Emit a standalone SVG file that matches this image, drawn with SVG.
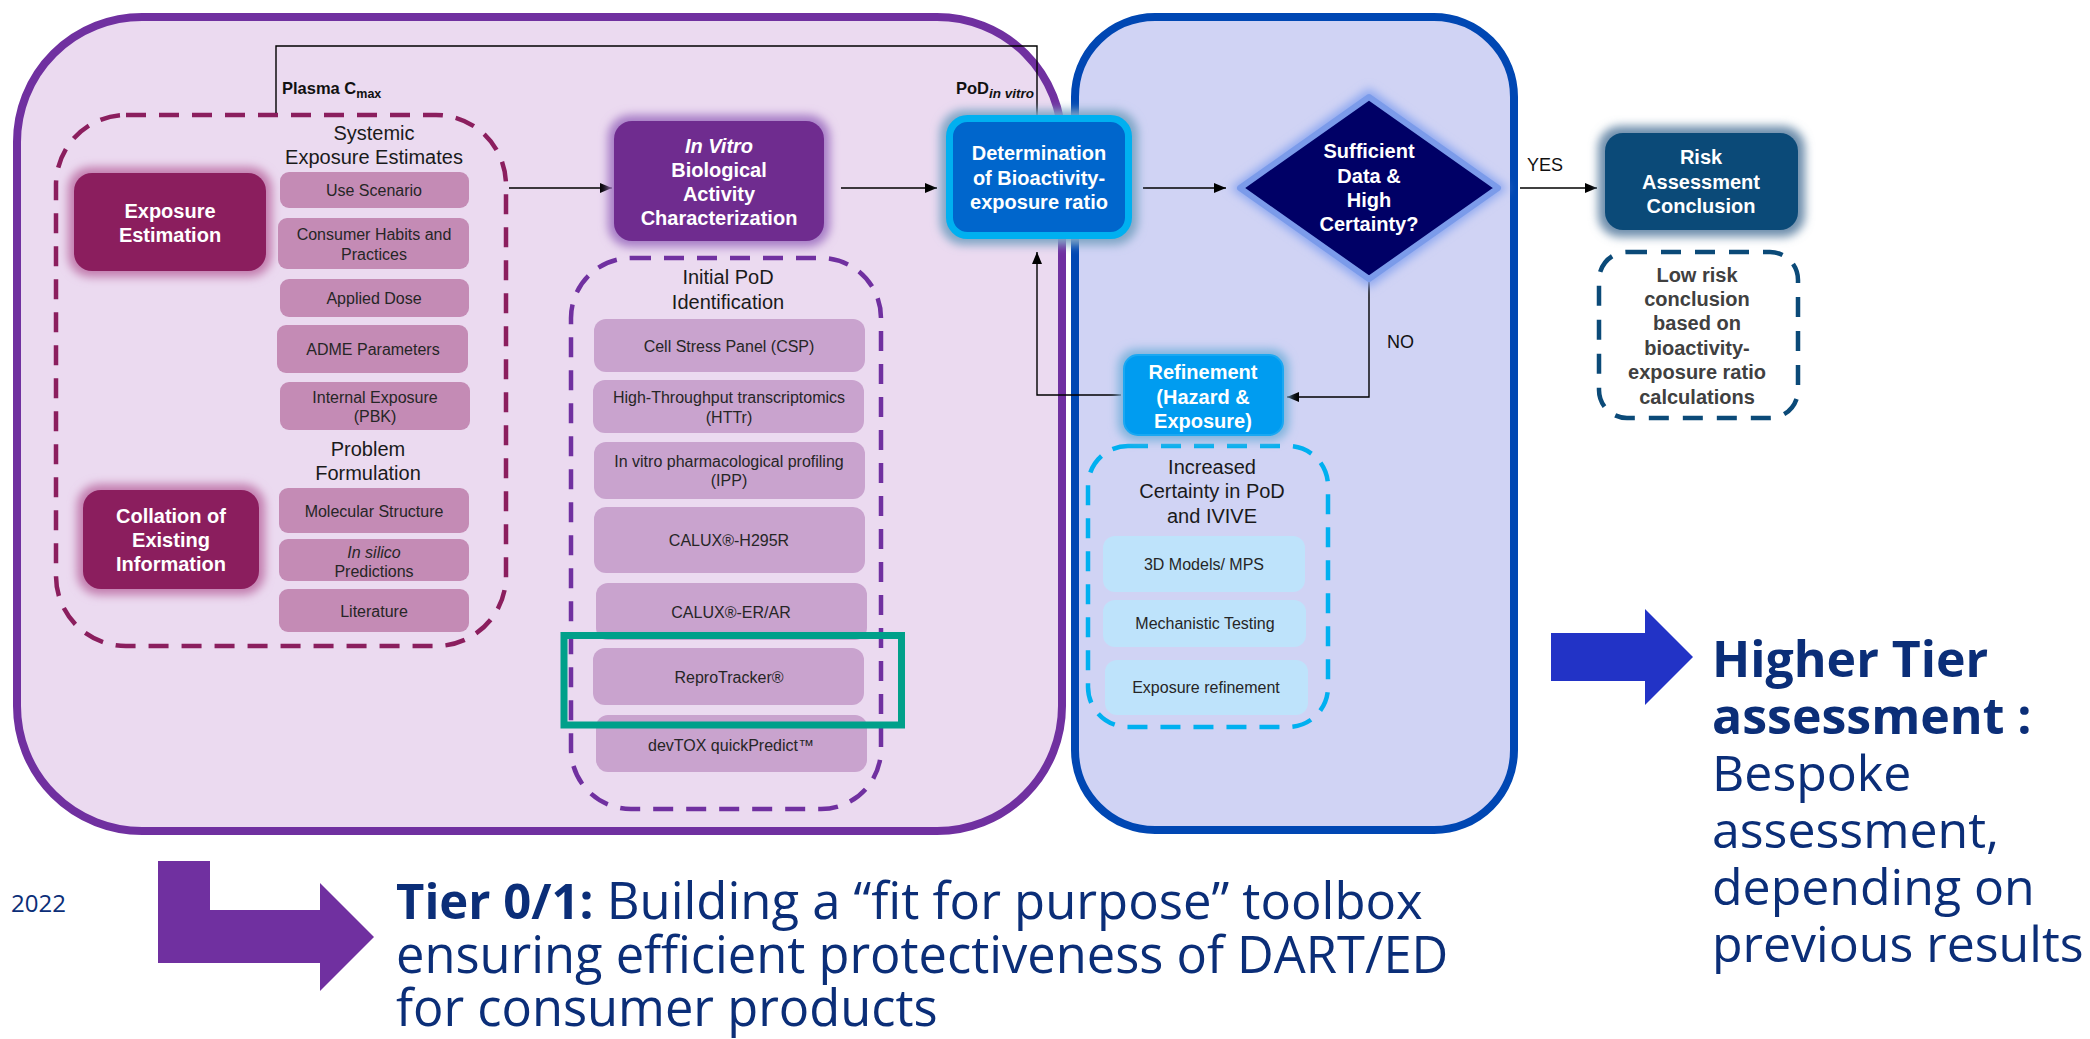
<svg xmlns="http://www.w3.org/2000/svg" width="2090" height="1039" viewBox="0 0 2090 1039">
<defs>
<style>
.t{font-family:"Liberation Sans",Arial,sans-serif;}
.hd{font-family:"Liberation Sans",Arial,sans-serif;font-size:20px;fill:#1a1a1a;text-anchor:middle;}
.it{font-family:"Liberation Sans",Arial,sans-serif;font-size:16px;fill:#262626;text-anchor:middle;}
.wb{font-family:"Liberation Sans",Arial,sans-serif;font-size:20px;font-weight:bold;fill:#ffffff;text-anchor:middle;}
.lab{font-family:"Liberation Sans",Arial,sans-serif;font-size:18px;fill:#111;}
.big{font-family:"Open Sans","Noto Sans",sans-serif;fill:#0B2E78;}
.conn{stroke:#000;stroke-width:1.4;fill:none;}
.pink{fill:#C48BB5;}
.lil{fill:#C9A3CE;}
.sky{fill:#BEE3FB;}
.halo{filter:url(#blur);}
</style>
<filter id="blur" x="-30%" y="-30%" width="160%" height="160%"><feGaussianBlur stdDeviation="5"/></filter>
<marker id="ah" viewBox="0 0 12 10" refX="12" refY="5" markerWidth="12" markerHeight="10" markerUnits="userSpaceOnUse" orient="auto"><path d="M0,0 L12,5 L0,10 Z" fill="#000"/></marker>
</defs>

<!-- background panels -->
<rect id="tier01-panel" x="17" y="17" width="1045" height="814" rx="125" fill="#EBDAF0" stroke="#7030A0" stroke-width="8"/>
<rect id="higher-panel" x="1075" y="17" width="439" height="813" rx="80" fill="#D0D3F4" stroke="#0047B3" stroke-width="8"/>

<!-- dashed groups -->
<g id="exposure-group">
<rect x="56" y="115" width="450" height="531" rx="70" fill="none" stroke="#8B1E5E" stroke-width="4.5" stroke-dasharray="20 13"/>
<text class="hd" x="374" y="140">Systemic</text>
<text class="hd" x="374" y="164">Exposure Estimates</text>
<text class="hd" x="368" y="456">Problem</text>
<text class="hd" x="368" y="480">Formulation</text>
</g>
<g id="pod-group">
<rect x="571" y="258" width="310" height="551" rx="60" fill="none" stroke="#7030A0" stroke-width="4.5" stroke-dasharray="20 13"/>
<text class="hd" x="728" y="284">Initial PoD</text>
<text class="hd" x="728" y="309">Identification</text>
</g>
<g id="certainty-group">
<rect x="1088" y="446" width="240" height="281" rx="40" fill="none" stroke="#00B0F0" stroke-width="4.5" stroke-dasharray="20 13"/>
<text class="hd" x="1212" y="474">Increased</text>
<text class="hd" x="1212" y="498">Certainty in PoD</text>
<text class="hd" x="1212" y="523">and IVIVE</text>
</g>

<!-- connectors -->
<g id="connectors">
<polyline class="conn" points="276,113 276,46 1037,46 1037,115"/>
<line class="conn" x1="509" y1="188" x2="612" y2="188" marker-end="url(#ah)"/>
<line class="conn" x1="841" y1="188" x2="937" y2="188" marker-end="url(#ah)"/>
<line class="conn" x1="1143" y1="188" x2="1226" y2="188" marker-end="url(#ah)"/>
<line class="conn" x1="1520" y1="188" x2="1597" y2="188" marker-end="url(#ah)"/>
<polyline class="conn" points="1369,281 1369,397 1287,397" marker-end="url(#ah)"/>
<polyline class="conn" points="1121,395 1037,395 1037,252" marker-end="url(#ah)"/>
<text class="t" x="282" y="94" font-size="16.5" font-weight="bold" fill="#111">Plasma C<tspan font-size="12.5" dy="4">max</tspan></text>
<text class="t" x="1034" y="94" font-size="16.5" font-weight="bold" fill="#111" text-anchor="end">PoD<tspan font-size="13.5" font-style="italic" dy="4">in vitro</tspan></text>
<text class="lab" x="1527" y="171">YES</text>
<text class="lab" x="1387" y="348">NO</text>
</g>

<!-- left column nodes -->
<g id="exposure-estimation">
<rect class="halo" x="68" y="167" width="204" height="110" rx="22" fill="#C27DAE"/>
<rect x="74" y="173" width="192" height="98" rx="18" fill="#8B1E5E"/>
<text class="wb" x="170" y="218">Exposure</text>
<text class="wb" x="170" y="242">Estimation</text>
</g>
<g id="collation">
<rect class="halo" x="77" y="484" width="188" height="111" rx="22" fill="#C27DAE"/>
<rect x="83" y="490" width="176" height="99" rx="18" fill="#8B1E5E"/>
<text class="wb" x="171" y="523">Collation of</text>
<text class="wb" x="171" y="547">Existing</text>
<text class="wb" x="171" y="571">Information</text>
</g>
<g id="use-scenario"><rect class="pink" x="280" y="172" width="189" height="36" rx="9"/><text class="it" x="374" y="196">Use Scenario</text></g>
<g id="consumer-habits"><rect class="pink" x="278" y="218" width="191" height="51" rx="9"/><text class="it" x="374" y="240">Consumer Habits and</text><text class="it" x="374" y="260">Practices</text></g>
<g id="applied-dose"><rect class="pink" x="280" y="279" width="189" height="38" rx="9"/><text class="it" x="374" y="304">Applied Dose</text></g>
<g id="adme"><rect class="pink" x="277" y="325" width="191" height="48" rx="9"/><text class="it" x="373" y="355">ADME Parameters</text></g>
<g id="internal-exposure"><rect class="pink" x="280" y="382" width="190" height="48" rx="9"/><text class="it" x="375" y="403">Internal Exposure</text><text class="it" x="375" y="422">(PBK)</text></g>
<g id="molecular-structure"><rect class="pink" x="279" y="488" width="190" height="45" rx="9"/><text class="it" x="374" y="517">Molecular Structure</text></g>
<g id="in-silico"><rect class="pink" x="279" y="539" width="190" height="42" rx="9"/><text class="it" x="374" y="558" font-style="italic">In silico</text><text class="it" x="374" y="577">Predictions</text></g>
<g id="literature"><rect class="pink" x="279" y="589" width="190" height="43" rx="9"/><text class="it" x="374" y="617">Literature</text></g>

<!-- middle column -->
<g id="in-vitro">
<rect class="halo" x="608" y="115" width="222" height="132" rx="22" fill="#A67CC6"/>
<rect x="614" y="121" width="210" height="120" rx="18" fill="#6F2C8F"/>
<text class="wb" x="719" y="153" font-style="italic">In Vitro</text>
<text class="wb" x="719" y="177">Biological</text>
<text class="wb" x="719" y="201">Activity</text>
<text class="wb" x="719" y="225">Characterization</text>
</g>
<g id="csp"><rect class="lil" x="594" y="319" width="271" height="53" rx="12"/><text class="it" x="729" y="352">Cell Stress Panel (CSP)</text></g>
<g id="httr"><rect class="lil" x="593" y="380" width="271" height="53" rx="12"/><text class="it" x="729" y="403">High-Throughput transcriptomics</text><text class="it" x="729" y="423">(HTTr)</text></g>
<g id="ipp"><rect class="lil" x="594" y="442" width="271" height="57" rx="12"/><text class="it" x="729" y="467">In vitro pharmacological profiling</text><text class="it" x="729" y="486">(IPP)</text></g>
<g id="calux-h295r"><rect class="lil" x="594" y="507" width="271" height="66" rx="12"/><text class="it" x="729" y="546">CALUX®-H295R</text></g>
<g id="calux-erar"><rect class="lil" x="596" y="583" width="271" height="57" rx="12"/><text class="it" x="731" y="618">CALUX®-ER/AR</text></g>
<g id="reprotracker"><rect class="lil" x="593" y="648" width="271" height="57" rx="12"/><text class="it" x="729" y="683">ReproTracker®</text></g>
<g id="devtox"><rect class="lil" x="596" y="715" width="271" height="57" rx="12"/><text class="it" x="731" y="751">devTOX quickPredict™</text></g>
<g id="highlight"><rect x="564" y="635.5" width="337.5" height="89.5" fill="none" stroke="#00A08A" stroke-width="7"/></g>

<!-- right part -->
<g id="determination">
<rect class="halo" x="940" y="110" width="198" height="135" rx="24" fill="#7FA6C6"/>
<rect x="949.5" y="118.5" width="179" height="117" rx="18" fill="#0066CC" stroke="#00B0F0" stroke-width="7"/>
<text class="wb" x="1039" y="160">Determination</text>
<text class="wb" x="1039" y="185">of Bioactivity-</text>
<text class="wb" x="1039" y="209">exposure ratio</text>
</g>
<g id="decision">
<polygon class="halo" points="1369,88 1508,188 1369,288 1230,188" fill="#8EA8F0"/>
<polygon points="1369,97 1498,188 1369,279 1240,188" fill="#000066" stroke="#7B9BEA" stroke-width="6" stroke-linejoin="round"/>
<text class="wb" x="1369" y="158">Sufficient</text>
<text class="wb" x="1369" y="183">Data &amp;</text>
<text class="wb" x="1369" y="207">High</text>
<text class="wb" x="1369" y="231">Certainty?</text>
</g>
<g id="risk-conclusion">
<rect class="halo" x="1598" y="126" width="207" height="111" rx="22" fill="#6E8EAC"/>
<rect x="1605" y="133" width="193" height="97" rx="18" fill="#0B4A78"/>
<text class="wb" x="1701" y="164">Risk</text>
<text class="wb" x="1701" y="189">Assessment</text>
<text class="wb" x="1701" y="213">Conclusion</text>
</g>
<g id="low-risk">
<rect x="1599" y="252" width="199" height="166" rx="28" fill="none" stroke="#0B4A78" stroke-width="4.5" stroke-dasharray="20 14"/>
<g class="t" font-size="20" font-weight="bold" fill="#404040" text-anchor="middle">
<text x="1697" y="282">Low risk</text>
<text x="1697" y="306">conclusion</text>
<text x="1697" y="330">based on</text>
<text x="1697" y="355">bioactivity-</text>
<text x="1697" y="379">exposure ratio</text>
<text x="1697" y="404">calculations</text>
</g>
</g>
<g id="refinement">
<rect class="halo" x="1118" y="349" width="171" height="92" rx="18" fill="#7FB4DD"/>
<rect x="1124" y="355" width="159" height="80" rx="14" fill="#009CF0" stroke="#1AA8F2" stroke-width="2"/>
<text class="wb" x="1203" y="379">Refinement</text>
<text class="wb" x="1203" y="404">(Hazard &amp;</text>
<text class="wb" x="1203" y="428">Exposure)</text>
</g>
<g id="models-mps"><rect class="sky" x="1103" y="536" width="202" height="56" rx="12"/><text class="it" x="1204" y="570">3D Models/ MPS</text></g>
<g id="mechanistic"><rect class="sky" x="1103" y="600" width="203" height="47" rx="12"/><text class="it" x="1205" y="629">Mechanistic Testing</text></g>
<g id="exposure-refinement"><rect class="sky" x="1105" y="660" width="203" height="55" rx="12"/><text class="it" x="1206" y="693">Exposure refinement</text></g>

<!-- higher tier callout -->
<g id="higher-tier">
<polygon points="1551,633 1645,633 1645,609 1693,657 1645,705 1645,681 1551,681" fill="#2233C6"/>
<text class="big" x="1712" y="677" font-size="50" font-weight="bold">Higher Tier</text>
<text class="big" x="1712" y="734" font-size="50" font-weight="bold">assessment :</text>
<text class="big" x="1712" y="791" font-size="50">Bespoke</text>
<text class="big" x="1712" y="848" font-size="50">assessment,</text>
<text class="big" x="1712" y="905" font-size="50">depending on</text>
<text class="big" x="1712" y="962" font-size="50">previous results</text>
</g>

<!-- tier 0/1 callout -->
<g id="tier01">
<text class="big" x="11" y="912" font-size="24">2022</text>
<polygon points="158,861 210,861 210,910 320,910 320,883 374,937 320,991 320,963 158,963" fill="#7030A0"/>
<text class="big" x="396" y="919" font-size="50.8"><tspan font-weight="bold" font-size="49">Tier 0/1:</tspan> Building a “fit for purpose” toolbox</text>
<text class="big" x="396" y="973" font-size="50.6">ensuring efficient protectiveness of DART/ED</text>
<text class="big" x="396" y="1026" font-size="50.6">for consumer products</text>
</g>
</svg>
